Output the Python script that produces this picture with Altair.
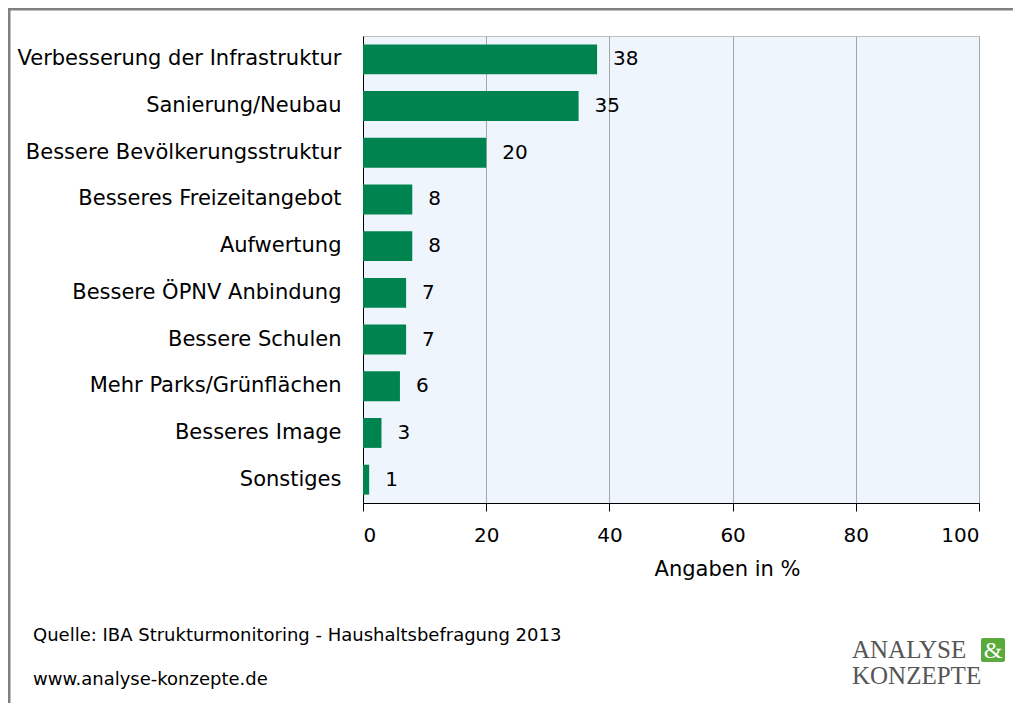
import altair as alt
import pandas as pd

categories = ["Verbesserung der Infrastruktur", "Sanierung/Neubau", "Bessere Bevölkerungsstruktur",
              "Besseres Freizeitangebot", "Aufwertung", "Bessere ÖPNV Anbindung", "Bessere Schulen",
              "Mehr Parks/Grünflächen", "Besseres Image", "Sonstiges"]
values = [38, 35, 20, 8, 8, 7, 7, 6, 3, 1]
x_ticks = [0, 20, 40, 60, 80, 100]
x_title = "Angaben in %"
source_lines = ["Quelle: IBA Strukturmonitoring - Haushaltsbefragung 2013", "www.analyse-konzepte.de"]
logo_lines = ["ANALYSE", "KONZEPTE"]

FONT = "DejaVu Sans"
GREEN = "#00844F"

df = pd.DataFrame({"cat": categories, "val": values})

y_enc = alt.Y("cat:N", sort=categories, title=None,
              scale=alt.Scale(paddingInner=0.36, paddingOuter=0.18),
              axis=alt.Axis(domain=True, domainColor="#000000", domainWidth=1, ticks=False,
                            grid=False, labelFontSize=21, labelFont=FONT, labelColor="#000000",
                            labelPadding=22, labelLimit=400))
x_enc = alt.X("val:Q", title=x_title,
              scale=alt.Scale(domain=[0, 100], nice=False),
              axis=alt.Axis(values=x_ticks, grid=True, gridColor="#A6A6A6", gridWidth=1,
                            domainColor="#000000", tickColor="#000000", tickSize=8,
                            labelFontSize=20, labelFont=FONT, labelColor="#000000",
                            labelPadding=14, titleFont=FONT, titleFontSize=21,
                            titleFontWeight="normal", titleColor="#000000",
                            titleX=364, titleY=66, titleBaseline="middle", titleAlign="center"))

bars = alt.Chart(df).mark_bar(color=GREEN).encode(x=x_enc, y=y_enc)
labels = alt.Chart(df).mark_text(align="left", baseline="middle", dx=16, fontSize=20,
                                 font=FONT, color="#000000").encode(
    x="val:Q", y=alt.Y("cat:N", sort=categories), text="val:Q")

one = pd.DataFrame({"a": [0]})
frame_h = alt.Chart(one).mark_rule(color="#808080", strokeWidth=3).encode(
    x=alt.value(-355), x2=alt.value(700), y=alt.value(-27))
frame_v = alt.Chart(one).mark_rule(color="#808080", strokeWidth=3).encode(
    x=alt.value(-354), y=alt.value(-28), y2=alt.value(700))

src_df = pd.DataFrame({"t": source_lines, "yy": [600, 644]})
src = alt.Chart(src_df).mark_text(align="left", baseline="middle", fontSize=18, font=FONT,
                                  color="#000000").encode(
    x=alt.value(-330), y=alt.Y("yy:Q", scale=None), text="t:N")

logo_df = pd.DataFrame({"t": logo_lines, "yy": [622, 648]})
logo = alt.Chart(logo_df).mark_text(align="left", baseline="alphabetic", fontSize=25,
                                    font="Liberation Serif", color="#555555").encode(
    x=alt.value(489), y=alt.Y("yy:Q", scale=None), text="t:N")
amp_box = alt.Chart(one).mark_rect(color="#5AAA3C", cornerRadius=2).encode(
    x=alt.value(618), x2=alt.value(642), y=alt.value(602), y2=alt.value(626))
amp = alt.Chart(one).mark_text(text="&", align="center", baseline="alphabetic", fontSize=24,
                               font="Liberation Serif", color="#FFFFFF").encode(
    x=alt.value(630), y=alt.value(622))

chart = alt.layer(bars, labels, frame_h, frame_v, src, logo, amp_box, amp).properties(
    width=616, height=467,
    autosize=alt.AutoSizeParams(type="none"),
    padding={"left": 355, "top": 28, "right": 34, "bottom": 200},
    background="#FFFFFF",
).configure_view(fill="#EEF5FD", stroke="#BFBFBF", strokeWidth=1)

chart.save("out.html", embed_options={"renderer": "svg", "actions": False})
